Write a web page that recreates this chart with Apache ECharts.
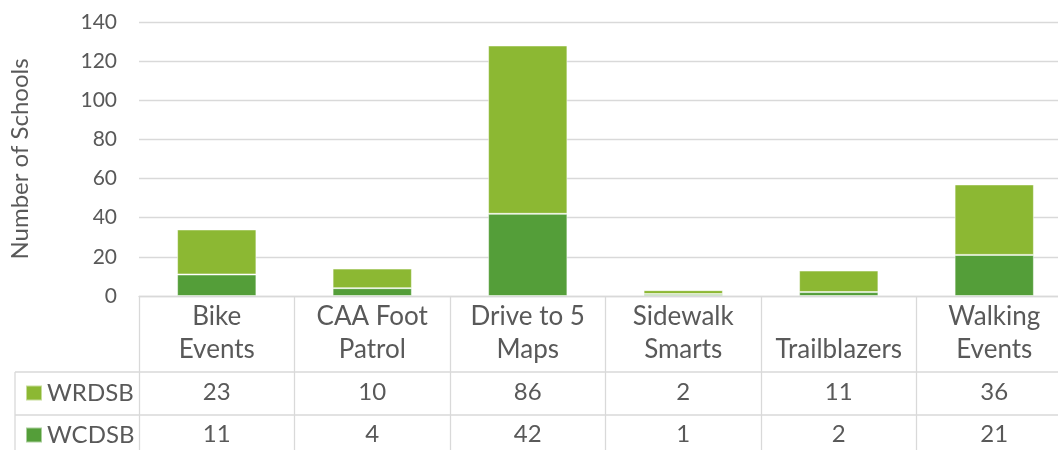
<!DOCTYPE html>
<html>
<head>
<meta charset="utf-8">
<script src="https://cdn.jsdelivr.net/npm/echarts@6/dist/echarts.min.js"></script>
<style>
  html, body { margin: 0; padding: 0; background: #fff; }
  #chart { width: 1058px; height: 450px; }
</style>
</head>
<body>
<div id="chart"></div>
<script>
// categories (line breaks as in the data table header)
const categories = ['Bike\nEvents', 'CAA Foot\nPatrol', 'Drive to 5\nMaps', 'Sidewalk\nSmarts', 'Trailblazers', 'Walking\nEvents'];
const wrdsb = [23, 10, 86, 2, 11, 36];
const wcdsb = [11, 4, 42, 1, 2, 21];
const seriesNames = ['WRDSB', 'WCDSB'];

const textColor = '#595959';
const lineColor = '#d9d9d9';
const lightGreen = '#8cb833';
const darkGreen = '#549e39';
const font = 'Lato, "Open Sans", sans-serif';

const myChart = echarts.init(document.getElementById('chart'));

const option = {
  backgroundColor: '#fff',
  animation: false,
  textStyle: { fontFamily: font },
  // plot area runs past the right edge of the picture, like the source
  grid: {
    left: 139,
    width: 933,
    top: 22,
    bottom: 154,
    outerBoundsMode: 'none'
  },
  legend: {
    data: seriesNames,
    orient: 'vertical',
    left: 25,
    top: 381,
    padding: 0,
    itemWidth: 16,
    itemHeight: 15,
    itemGap: 18,
    icon: 'rect',
    textStyle: { color: textColor, fontSize: 24, lineHeight: 24, fontFamily: font }
  },
  xAxis: {
    type: 'category',
    data: categories,
    axisLine: { lineStyle: { color: lineColor, width: 1.3 } },
    axisTick: { show: true, interval: 0, length: 160, lineStyle: { color: lineColor, width: 1.3 } },
    axisLabel: {
      interval: 0,
      margin: 4,
      color: textColor,
      fontSize: 24,
      fontFamily: font,
      formatter: function (value, index) {
        const lines = value.indexOf('\n') >= 0 ? value.split('\n') : [' ', value];
        return '{h|' + lines[0] + '}\n{h|' + lines[1] + '}\n{r1|' + wrdsb[index] + '}\n{r2|' + wcdsb[index] + '}';
      },
      rich: {
        h: { lineHeight: 33, fontSize: 26, color: textColor, fontFamily: font },
        r1: { lineHeight: 53, fontSize: 24, color: textColor, fontFamily: font },
        r2: { lineHeight: 31, fontSize: 24, color: textColor, fontFamily: font }
      }
    }
  },
  yAxis: {
    type: 'value',
    min: 0,
    max: 140,
    interval: 20,
    name: 'Number of Schools',
    nameLocation: 'middle',
    nameGap: 107,
    nameTextStyle: { color: textColor, fontSize: 24, fontFamily: font },
    axisLine: { show: false },
    axisTick: { show: false },
    axisLabel: { color: textColor, fontSize: 21, margin: 22, fontFamily: font },
    splitLine: { lineStyle: { color: lineColor, width: 1.3 } }
  },
  series: [
    {
      name: seriesNames[1],
      type: 'bar',
      stack: 'total',
      data: wcdsb,
      barWidth: '51%',
      itemStyle: { color: darkGreen, borderColor: 'rgba(255,255,255,0.5)', borderWidth: 1 }
    },
    {
      name: seriesNames[0],
      type: 'bar',
      stack: 'total',
      data: wrdsb,
      barWidth: '51%',
      itemStyle: { color: lightGreen, borderColor: 'rgba(255,255,255,0.5)', borderWidth: 1 }
    }
  ],
  // data table borders
  graphic: [
    { type: 'line', shape: { x1: 15, y1: 372, x2: 1058, y2: 372 }, style: { stroke: lineColor, lineWidth: 1.3 } },
    { type: 'line', shape: { x1: 15, y1: 415, x2: 1058, y2: 415 }, style: { stroke: lineColor, lineWidth: 1.3 } },
    { type: 'line', shape: { x1: 15, y1: 372, x2: 15, y2: 450 }, style: { stroke: lineColor, lineWidth: 1.3 } }
  ]
};

myChart.setOption(option);
</script>
</body>
</html>
